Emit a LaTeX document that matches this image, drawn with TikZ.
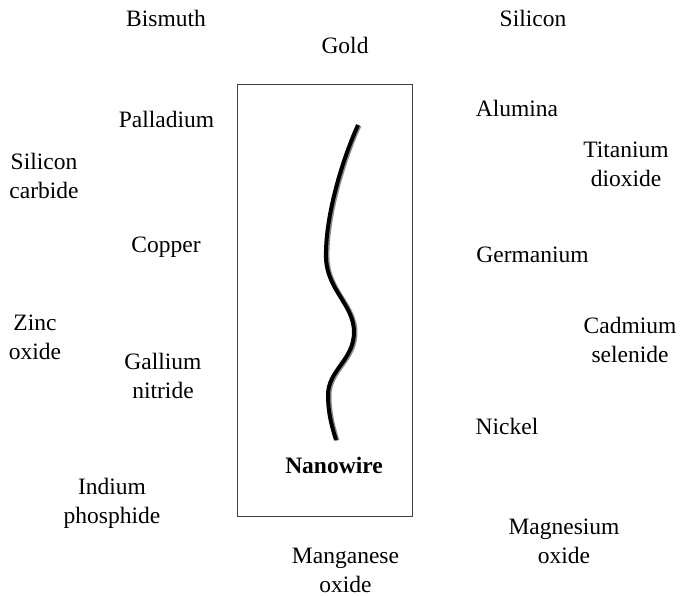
\documentclass[tikz,border=0pt]{standalone}
\usepackage{fontspec}
\setmainfont{Liberation Serif}
\usepackage{tikz}
\usetikzlibrary{positioning, calc}

\begin{document}
\begin{tikzpicture}[
        x=1pt, y=-1pt,
        label/.style={align=center, inner sep=0pt, font=\fontsize{23.5}{29}\selectfont},
        frame/.style={draw=black!75, line width=1pt},
        wire/.style={line width=4pt, line cap=butt, black},
        wireshadow/.style={line width=4pt, line cap=butt, black!45}
    ]
        \useasboundingbox (0,0) rectangle (683,596);

        % Recuadro central con el nanohilo
        \node [frame, minimum width=175pt, minimum height=431pt, inner sep=0pt] (box) at (324.5,300.5) {};
        \draw [wireshadow, shift={(1.5,0.5)}] (358,125) .. controls (340,165) and (325,220) .. (326,258)
            .. controls (327,290) and (354,305) .. (354,332)
            .. controls (354,360) and (328,370) .. (328,395)
            .. controls (328,415) and (333,430) .. (336,440);
        \draw [wire] (358,125) .. controls (340,165) and (325,220) .. (326,258)
            .. controls (327,290) and (354,305) .. (354,332)
            .. controls (354,360) and (328,370) .. (328,395)
            .. controls (328,415) and (333,430) .. (336,440);
        \node [label, font=\fontsize{23.5}{29}\selectfont\bfseries] (nano) at (334,465) {Nanowire};

        % Materiales alrededor
        \node [label] (bismuth) at (166,18) {Bismuth};
        \node [label] (gold) at (345,45) {Gold};
        \node [label] (silicon) at (533,18) {Silicon};
        \node [label] (palladium) at (166.5,119) {Palladium};
        \node [label] (alumina) at (517,108) {Alumina};
        \node [label] (sic) at (44,176) {Silicon\\carbide};
        \node [label] (tio) at (626,164) {Titanium\\dioxide};
        \node [label] (copper) at (166,247) {Copper};
        \node [label] (germanium) at (532.5,255) {Germanium};
        \node [label] (zno) at (35,337) {Zinc\\oxide};
        \node [label] (cdse) at (630,340) {Cadmium\\selenide};
        \node [label] (gan) at (163,376) {Gallium\\nitride};
        \node [label] (nickel) at (507,426) {Nickel};
        \node [label] (inp) at (112,503) {Indium\\phosphide};
        \node [label] (mgo) at (564,541) {Magnesium\\oxide};
        \node [label] (mno) at (345.5,570) {Manganese\\oxide};
    \end{tikzpicture}
\end{document}
